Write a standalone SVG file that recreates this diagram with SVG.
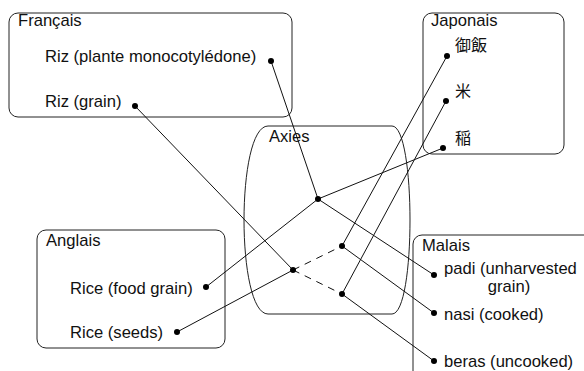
<svg xmlns="http://www.w3.org/2000/svg" width="584" height="371" viewBox="0 0 584 371">
<style>
.box{fill:none;stroke:#222;stroke-width:1}
.t{font-family:"Liberation Sans",Arial,Helvetica,sans-serif;font-size:16.6px;fill:#111}
.j{font-family:"Noto Sans CJK JP","Noto Sans CJK SC",sans-serif;font-size:16px;fill:#111}
.ln{stroke:#111;stroke-width:1;fill:none}
.dash{stroke-dasharray:7,6}
.dot{fill:#000}
</style>
<rect width="584" height="371" fill="#fff"/>
<g id="francais">
<rect class="box" x="9" y="13" width="283" height="104" rx="9"/>
<text class="t" x="18" y="26">Français</text>
<text class="t" x="45" y="62">Riz (plante monocotylédone)</text>
<text class="t" x="45" y="107">Riz (grain)</text>
</g>
<g id="japonais">
<rect class="box" x="423" y="13" width="141" height="141" rx="9"/>
<text class="t" x="431" y="26">Japonais</text>
<text class="j" x="455" y="51">御飯</text>
<text class="j" x="455" y="97">米</text>
<text class="j" x="455" y="144">稲</text>
</g>
<g id="axies">
<path class="box" d="M268,126 H392 C416,126 416,314 392,314 H268 C236,314 236,126 268,126 Z"/>
<text class="t" x="269" y="142">Axies</text>
</g>
<g id="anglais">
<rect class="box" x="37" y="230" width="188" height="118" rx="9"/>
<text class="t" x="46" y="246">Anglais</text>
<text class="t" x="70" y="294">Rice (food grain)</text>
<text class="t" x="70" y="338">Rice (seeds)</text>
</g>
<g id="malais">
<rect class="box" x="413" y="235" width="190" height="160" rx="9"/>
<text class="t" x="422" y="251">Malais</text>
<text class="t" x="444" y="274">padi (unharvested</text>
<text class="t" x="509" y="292" text-anchor="middle">grain)</text>
<text class="t" x="444" y="320">nasi (cooked)</text>
<text class="t" x="444" y="367">beras (uncooked)</text>
</g>
<g id="connectors">
<line class="ln" x1="271" y1="61" x2="318" y2="199"/>
<line class="ln" x1="135" y1="106" x2="293" y2="270"/>
<line class="ln" x1="447" y1="56" x2="342" y2="246"/>
<line class="ln" x1="446" y1="101" x2="342" y2="294"/>
<line class="ln" x1="443" y1="148" x2="318" y2="199"/>
<line class="ln" x1="318" y1="199" x2="206" y2="287"/>
<line class="ln" x1="318" y1="199" x2="434" y2="275"/>
<line class="ln" x1="293" y1="270" x2="177" y2="332"/>
<line class="ln" x1="342" y1="246" x2="434" y2="313"/>
<line class="ln" x1="342" y1="294" x2="434" y2="361"/>
<line class="ln dash" x1="293" y1="270" x2="342" y2="246"/>
<line class="ln dash" x1="293" y1="270" x2="342" y2="294"/>
<g class="dot">
<circle cx="271" cy="61" r="3"/>
<circle cx="135" cy="106" r="3"/>
<circle cx="447" cy="56" r="3"/>
<circle cx="446" cy="101" r="3"/>
<circle cx="443" cy="148" r="3"/>
<circle cx="318" cy="199" r="3"/>
<circle cx="342" cy="246" r="3"/>
<circle cx="293" cy="270" r="3"/>
<circle cx="342" cy="294" r="3"/>
<circle cx="206" cy="287" r="3"/>
<circle cx="177" cy="332" r="3"/>
<circle cx="434" cy="275" r="3"/>
<circle cx="434" cy="313" r="3"/>
<circle cx="434" cy="361" r="3"/>
</g>
</g>
</svg>
